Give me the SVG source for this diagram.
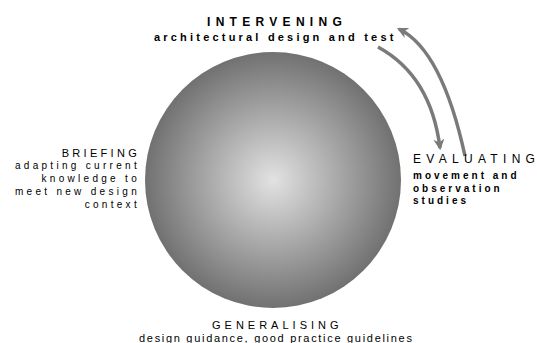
<svg xmlns="http://www.w3.org/2000/svg" width="537" height="343" viewBox="0 0 537 343">
<style>
text{font-family:"Liberation Sans",Arial,sans-serif;fill:#000}
.t{font-size:12px;letter-spacing:5.3px}
.tb{font-weight:bold}
.s{font-size:10px;font-weight:bold;letter-spacing:3px}
.r{font-size:10px;letter-spacing:3.3px}
.z{letter-spacing:0}
.conn{fill:none;stroke:#7a7a7a;stroke-width:3.5}
</style>
<defs>
<radialGradient id="g" cx="273" cy="180" r="128" gradientUnits="userSpaceOnUse">
<stop offset="0" stop-color="#e2e2e2"/>
<stop offset="1" stop-color="#717171"/>
</radialGradient>
<marker id="ah" viewBox="0 0 10 10" refX="8" refY="5" markerWidth="3.2" markerHeight="3.2" orient="auto" markerUnits="strokeWidth">
<path d="M0,0 L10,5 L0,10 L3,5 Z" fill="#7a7a7a"/>
</marker>
</defs>
<rect width="537" height="343" fill="#fff"/>
<g id="sphere"><circle cx="273" cy="180" r="128" fill="url(#g)"/></g>
<g id="connectors">
<path class="conn" d="M378,47 Q431,76 440,148" marker-end="url(#ah)"/>
<path class="conn" d="M465,156 Q442,50 399,29" marker-end="url(#ah)"/>
</g>
<g id="intervening">
<text class="t tb" x="207" y="26">INTERVENIN<tspan class="z">G</tspan></text>
<text class="s" x="154" y="41" style="font-size:11px;letter-spacing:3.2px">architectural design and tes<tspan class="z">t</tspan></text>
</g>
<g id="evaluating">
<text class="t" x="413" y="163">EVALUATIN<tspan class="z">G</tspan></text>
<text class="s" x="413" y="179">movement an<tspan class="z">d</tspan></text>
<text class="s" x="413" y="191.5">observatio<tspan class="z">n</tspan></text>
<text class="s" x="413" y="204">studie<tspan class="z">s</tspan></text>
</g>
<g id="briefing" text-anchor="end">
<text class="r" x="140" y="157" style="font-size:11px;letter-spacing:3.3px">BRIEFING</text>
<text class="r" x="140" y="169">adapting current</text>
<text class="r" x="140" y="182">knowledge to</text>
<text class="r" x="140" y="195">meet new design</text>
<text class="r" x="140" y="208">context</text>
</g>
<g id="generalising">
<text class="r" x="212" y="329" style="font-size:11px;letter-spacing:4px">GENERALISING</text>
<text class="r" x="139" y="342" style="font-size:11px;letter-spacing:1.7px">design guidance, good practice guideline<tspan class="z">s</tspan></text>
</g>
</svg>
